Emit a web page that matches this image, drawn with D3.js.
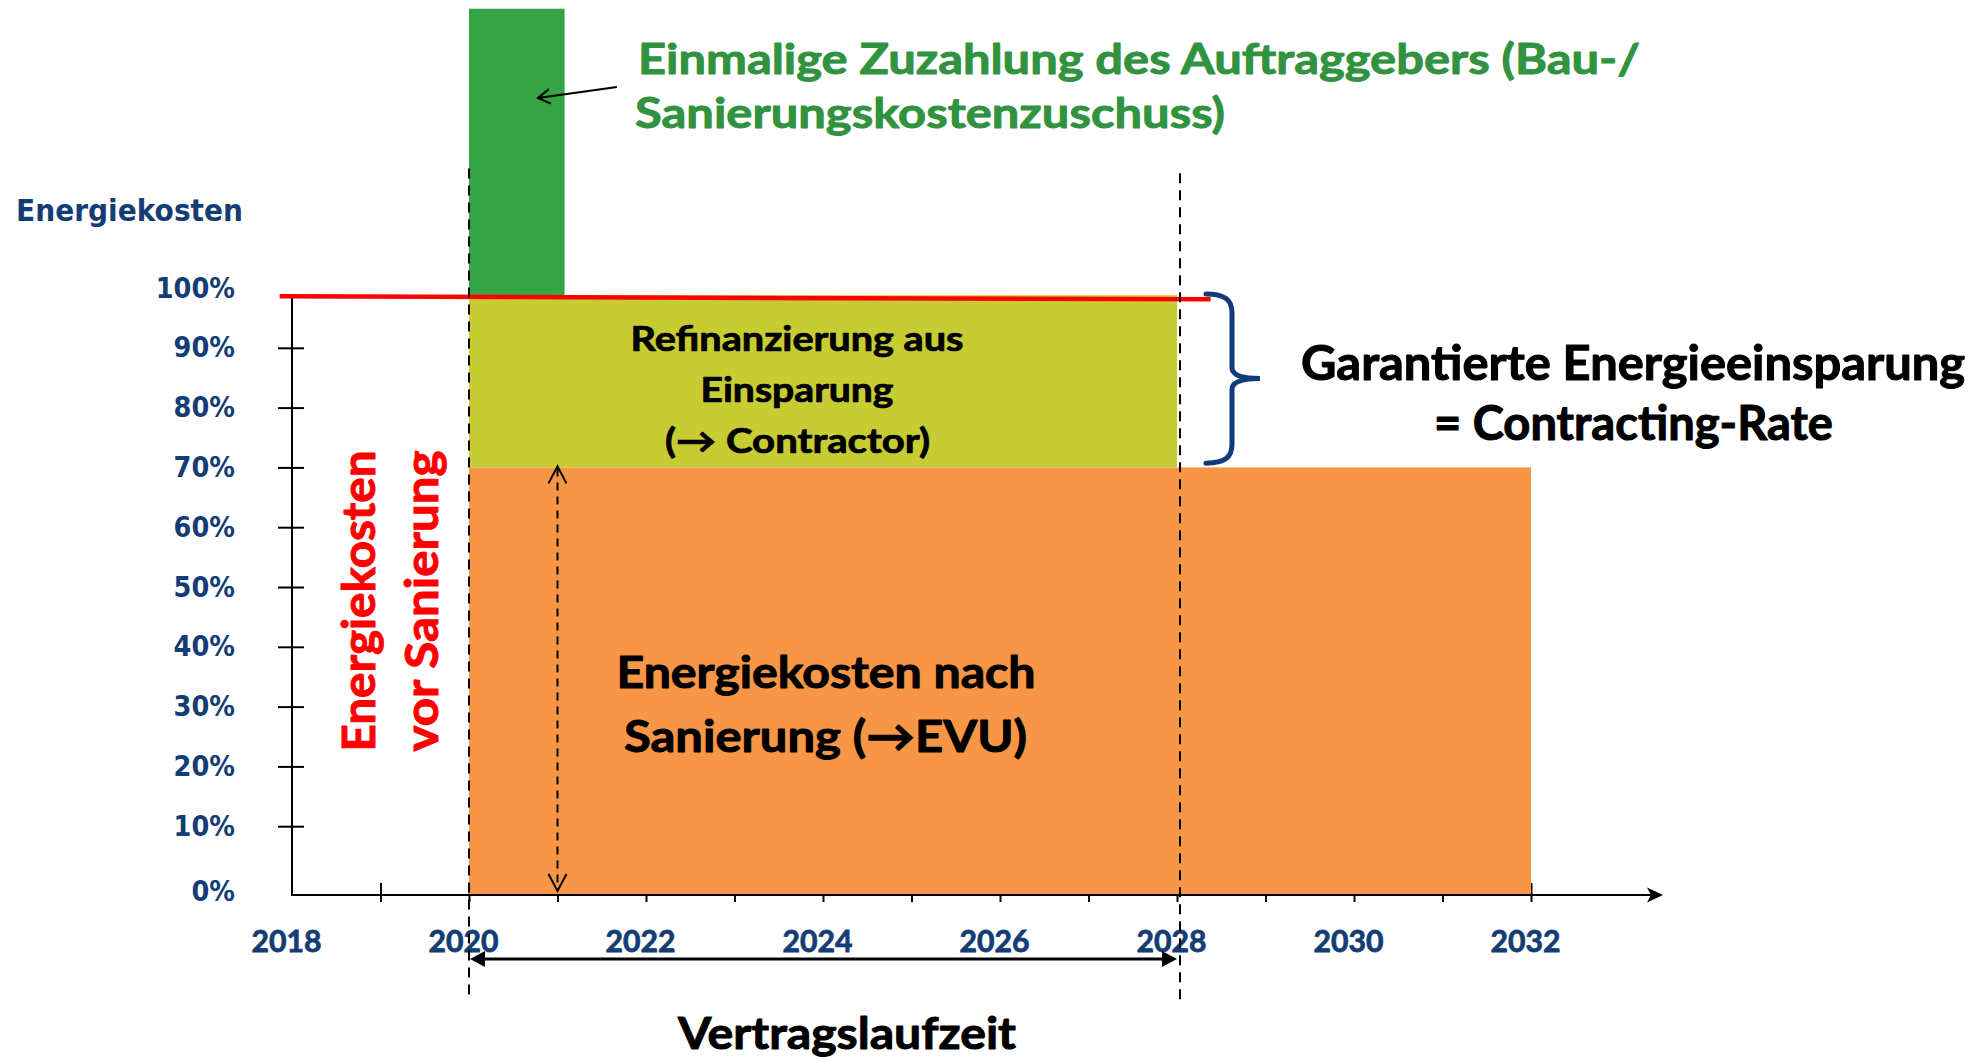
<!DOCTYPE html>
<html>
<head>
<meta charset="utf-8">
<script src="https://cdn.jsdelivr.net/npm/d3@7"></script>
<style>
  body { margin: 0; background: #fff; }
  svg { display: block; background: #fff; }
  .cal { font-family: Lato, "Open Sans", sans-serif; font-weight: 700; }
  .ver { font-family: "DejaVu Sans", Verdana, sans-serif; font-weight: 700; }
</style>
</head>
<body>
<svg id="svg" width="1977" height="1057"></svg>
<script>
// axis values
const yearTicks = [2018, 2019, 2020, 2021, 2022, 2023, 2024, 2025, 2026, 2027, 2028, 2029, 2030, 2031, 2032];
const yearLabels = [2018, 2020, 2022, 2024, 2026, 2028, 2030, 2032];
const percentTicks = [0, 10, 20, 30, 40, 50, 60, 70, 80, 90, 100];

// cost blocks (years from/to, percent low/high)
const blockNames = ["nach Sanierung", "Refinanzierung", "Zuzahlung"];
const blockFrom = [2020, 2020, 2020];
const blockTo = [2032, 2028, 2021.08];
const blockLow = [-1.5, 70, 98.6];
const blockHigh = [70, 98.8, 146.7];

// energy costs before renovation (red line)
const beforeYears = [2017.86, 2028.38];
const beforeValues = [98.6, 98.1];

// contract period and guaranteed saving
const contractYears = [2020, 2028];
const savingRange = [70.7, 99];
const postArrowYear = 2021;

const blue = "#143d75";
const colors = { "nach Sanierung": "#f79646", "Refinanzierung": "#c8cc33", "Zuzahlung": "#35a444" };

const svg = d3.select("#svg");
const x = d3.scaleLinear().domain([2018, 2032]).range([292, 1531]);
const y = d3.scaleLinear().domain([0, 100]).range([886, 288]);
const axisLevel = -1.5;   // the x axis sits a little under 0 %
const y0 = y(axisLevel);

// calibri-like bold text, squeezed to the measured width and thickened a bit
function addText(parent, str, px, py, size, width, color, anchor, cls) {
  const t = parent.append("text")
    .attr("class", cls || "cal")
    .attr("x", px).attr("y", py)
    .attr("text-anchor", anchor || "middle")
    .attr("font-size", size)
    .attr("fill", color)
    .attr("textLength", width)
    .attr("lengthAdjust", "spacingAndGlyphs")
    .text(str);
  if (!cls) t.attr("stroke", color).attr("stroke-width", size * 0.022).attr("stroke-linejoin", "round");
  return t;
}

// y axis ticks + labels
const yAxis = svg.append("g")
  .attr("transform", `translate(${x(2018)},0)`)
  .call(d3.axisLeft(y).tickValues(percentTicks).tickFormat(d => d + "%").tickSize(14).tickPadding(43));
yAxis.select(".domain").remove();
yAxis.selectAll(".tick line")
  .attr("x1", 12).attr("stroke", "#000").attr("stroke-width", 2)
  .attr("display", d => (d === 0 || d === 100) ? "none" : null);
yAxis.selectAll(".tick text")
  .attr("class", "ver").attr("font-size", 28.5).attr("fill", blue)
  .attr("transform", d => d === 0 ? "translate(0,5)" : null)
  .each(function () {
    this.setAttribute("textLength", this.getComputedTextLength() * 0.9);
    this.setAttribute("lengthAdjust", "spacingAndGlyphs");
  });

// x axis ticks + labels
const xAxis = svg.append("g")
  .attr("transform", `translate(0,${y0})`)
  .call(d3.axisBottom(x).tickValues(yearTicks)
    .tickFormat(d => yearLabels.includes(d) ? d : "").tickSize(7));
xAxis.select(".domain").remove();
xAxis.selectAll(".tick line")
  .attr("y1", -12).attr("stroke", "#000").attr("stroke-width", 2)
  .attr("display", d => d === 2018 ? "none" : null);
xAxis.selectAll(".tick text")
  .attr("class", "cal").attr("font-size", 31).attr("fill", blue)
  .attr("stroke", blue).attr("stroke-width", 0.8)
  .attr("y", 57).attr("dy", 0).attr("dx", -6)
  .attr("textLength", 70).attr("lengthAdjust", "spacingAndGlyphs");

// blocks
svg.append("g").selectAll("rect")
  .data(blockNames)
  .join("rect")
  .attr("x", (d, i) => x(blockFrom[i]))
  .attr("width", (d, i) => x(blockTo[i]) - x(blockFrom[i]))
  .attr("y", (d, i) => y(blockHigh[i]))
  .attr("height", (d, i) => y(blockLow[i]) - y(blockHigh[i]))
  .attr("fill", d => colors[d]);

// axis lines
svg.append("line")
  .attr("x1", x(2018)).attr("x2", x(2018))
  .attr("y1", y0).attr("y2", y(beforeValues[0]))
  .attr("stroke", "#000").attr("stroke-width", 2);
const xEnd = x(2032) + 132;
svg.append("line")
  .attr("x1", x(2018) - 1).attr("x2", xEnd - 8)
  .attr("y1", y0).attr("y2", y0)
  .attr("stroke", "#000").attr("stroke-width", 2);
svg.append("path")
  .attr("d", `M${xEnd},${y0} L${xEnd - 16},${y0 - 7.5} L${xEnd - 12},${y0} L${xEnd - 16},${y0 + 7.5} Z`)
  .attr("fill", "#000");

// red line: energy costs before renovation
svg.append("path")
  .datum(beforeYears.map((d, i) => [d, beforeValues[i]]))
  .attr("d", d3.line().x(d => x(d[0])).y(d => y(d[1])))
  .attr("stroke", "#ff0000").attr("stroke-width", 4.5).attr("fill", "none");

// dashed guides at contract start / end
svg.append("g").selectAll("line")
  .data(contractYears)
  .join("line")
  .attr("x1", d => x(d) + (d === 2028 ? 3 : 0)).attr("x2", d => x(d) + (d === 2028 ? 3 : 0))
  .attr("y1", (d, i) => y(120 - i * 0.8)).attr("y2", (d, i) => y(-19 - i * 0.8))
  .attr("stroke", "#000").attr("stroke-width", 2).attr("stroke-dasharray", "10,7");

// dashed double arrow for the remaining costs
const ax = x(postArrowYear);
const aTop = y(70) - 1, aBot = y0 - 4;
svg.append("line")
  .attr("x1", ax).attr("x2", ax).attr("y1", aTop + 2).attr("y2", aBot - 2)
  .attr("stroke", "#000").attr("stroke-width", 2).attr("stroke-dasharray", "8,6");
svg.append("path")
  .attr("d", `M${ax - 9},${aTop + 17} L${ax},${aTop} L${ax + 9},${aTop + 17} M${ax - 9},${aBot - 17} L${ax},${aBot} L${ax + 9},${aBot - 17}`)
  .attr("stroke", "#000").attr("stroke-width", 2).attr("fill", "none");

// contract period double arrow
const cy = 959, c1 = x(contractYears[0]) + 1, c2 = x(contractYears[1]);
svg.append("line")
  .attr("x1", c1 + 10).attr("x2", c2 - 10).attr("y1", cy).attr("y2", cy)
  .attr("stroke", "#000").attr("stroke-width", 3);
svg.append("path")
  .attr("d", `M${c1},${cy} L${c1 + 15},${cy - 8} L${c1 + 15},${cy + 8} Z M${c2},${cy} L${c2 - 15},${cy - 8} L${c2 - 15},${cy + 8} Z`)
  .attr("fill", "#000");

// brace for guaranteed saving
const bx0 = x(2028) + 29, bx1 = x(2028) + 55, bx2 = x(2028) + 83;
const bTop = y(savingRange[1]), bBot = y(savingRange[0]), bMid = (bTop + bBot) / 2;
svg.append("path")
  .attr("d", `M${bx0},${bTop} C${bx0 + 19},${bTop} ${bx1},${bTop + 6} ${bx1},${bTop + 19}
    L${bx1},${bMid - 11} C${bx1},${bMid - 4} ${bx1 + 8},${bMid} ${bx2},${bMid}
    C${bx1 + 8},${bMid} ${bx1},${bMid + 4} ${bx1},${bMid + 11}
    L${bx1},${bBot - 19} C${bx1},${bBot - 6} ${bx0 + 19},${bBot} ${bx0},${bBot}`)
  .attr("stroke", "#0f3c78").attr("stroke-width", 5).attr("fill", "none")
  .attr("stroke-linecap", "round");

// callout arrow to the green bar
const t0 = [617, 87], t1 = [538, 98];
const ang = Math.atan2(t0[1] - t1[1], t0[0] - t1[0]);
const arm = (a) => [t1[0] + 14 * Math.cos(ang + a), t1[1] + 14 * Math.sin(ang + a)];
svg.append("path")
  .attr("d", `M${t0[0]},${t0[1]} L${t1[0]},${t1[1]} M${arm(0.55)} L${t1[0]},${t1[1]} L${arm(-0.55)}`)
  .attr("stroke", "#000").attr("stroke-width", 2).attr("fill", "none");

// texts
addText(svg, "Energiekosten", 16, 221, 30, 227, blue, "start", "ver");

addText(svg, "Einmalige Zuzahlung des Auftraggebers (Bau-/", 638, 73.5, 42, 1002, "#31923f", "start");
addText(svg, "Sanierungskostenzuschuss)", 635, 128, 42, 590, "#31923f", "start");

addText(svg, "Refinanzierung aus", 797, 351, 34, 333, "#000");
addText(svg, "Einsparung", 797, 401.7, 34, 193, "#000");
addText(svg, "(\u2192 Contractor)", 797.5, 452.7, 34, 265, "#000");

addText(svg, "Energiekosten nach", 826, 688.3, 44, 419, "#000");
addText(svg, "Sanierung (\u2192EVU)", 825.5, 751.7, 44, 403, "#000");

addText(svg, "Garantierte Energieeinsparung", 1633, 380, 48, 664, "#000");
addText(svg, "= Contracting-Rate", 1633.5, 440, 48, 399, "#000");

addText(svg, "Vertragslaufzeit", 847, 1049, 44.6, 338, "#000");

const rot1 = svg.append("g").attr("transform", "translate(375,601) rotate(-90)");
addText(rot1, "Energiekosten", 0, 0, 46.5, 301, "#ff0000");
const rot2 = svg.append("g").attr("transform", "translate(438,601) rotate(-90)");
addText(rot2, "vor Sanierung", 0, 0, 46.5, 301, "#ff0000");
</script>
</body>
</html>
